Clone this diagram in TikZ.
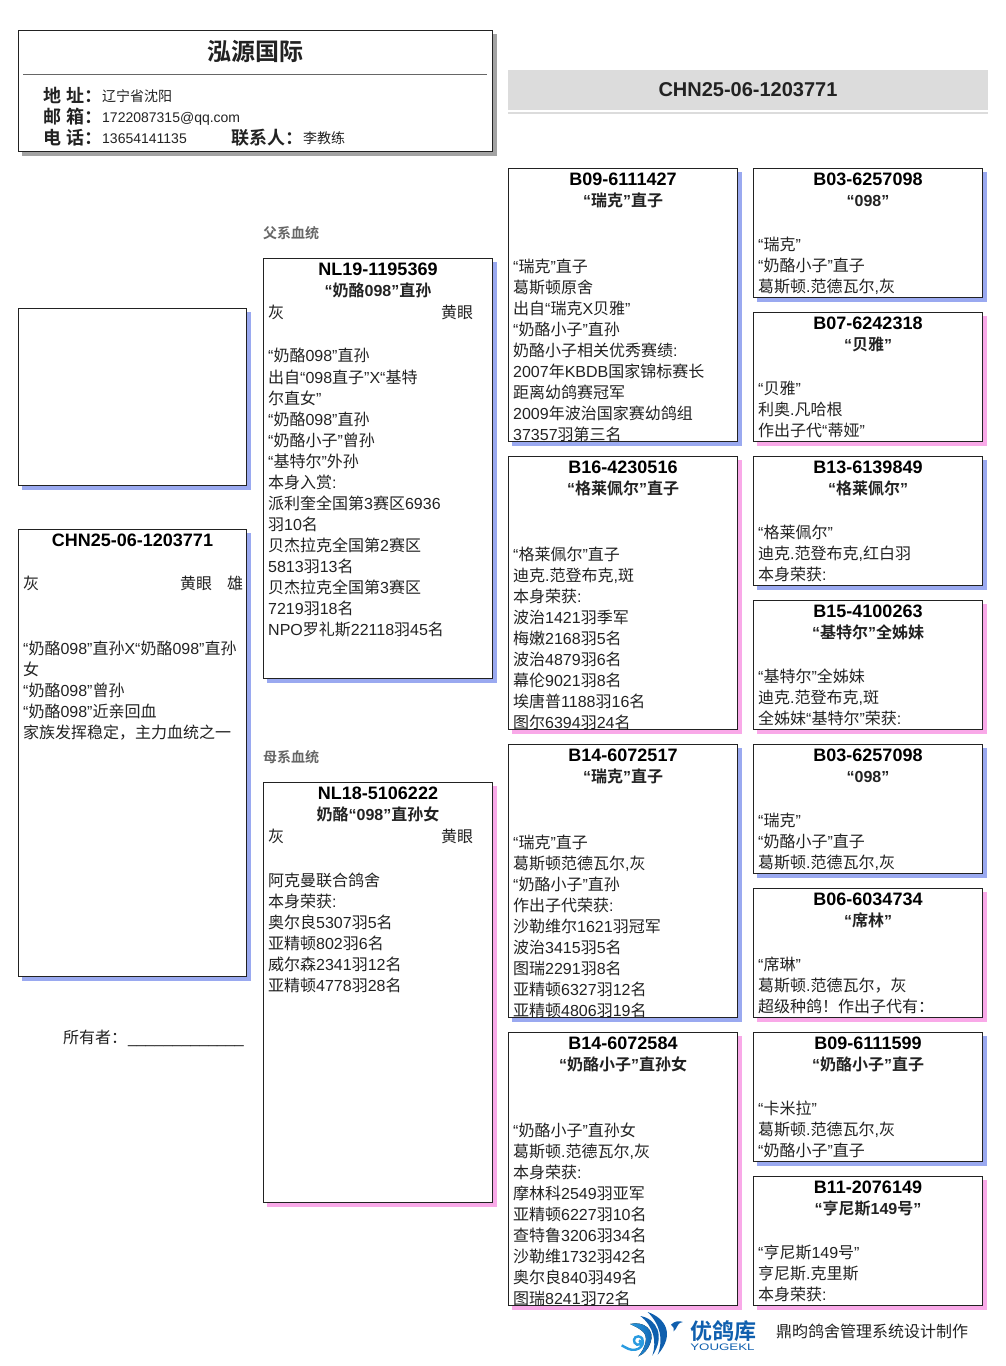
\documentclass[tikz,border=0pt]{standalone}
\usepackage{fontspec}
\setmainfont{Liberation Sans}
\newfontfamily\cjkfam[BoldFont={Noto Sans CJK SC Bold}]{Noto Sans CJK SC}
\XeTeXinterchartokenstate=1
\newXeTeXintercharclass\cjkcl
\makeatletter
\count@="4E00 \loop \XeTeXcharclass\count@=\cjkcl \ifnum\count@<"9FFF \advance\count@ 1 \repeat
\count@="FF00 \loop \XeTeXcharclass\count@=\cjkcl \ifnum\count@<"FF60 \advance\count@ 1 \repeat
\makeatother
\XeTeXinterchartoks 0 \cjkcl = {\begingroup\cjkfam}
\XeTeXinterchartoks 4095 \cjkcl = {\begingroup\cjkfam}
\XeTeXinterchartoks \cjkcl 0 = {\endgroup}
\XeTeXinterchartoks \cjkcl 4095 = {\endgroup}
\definecolor{inkc}{HTML}{222222}
\definecolor{sireblue}{HTML}{9AA9F0}
\definecolor{damepink}{HTML}{F9A9E8}
\definecolor{hdrgray}{HTML}{A3A3A3}
\definecolor{bannerc}{HTML}{DCDCDC}
\definecolor{logod}{HTML}{0F5FAE}
\definecolor{logol}{HTML}{2A9BE0}
\newcommand\fsz[2]{\fontsize{#1}{#2}\selectfont}
\tikzset{
 pedframe/.style={draw=inkc,line width=1pt,fill=white,inner sep=0pt,outer sep=0pt,rectangle,anchor=north west},
 pedshadow/.style={fill=#1,inner sep=0pt,outer sep=0pt,rectangle,anchor=north west},
 idtext/.style={font=\bfseries\fsz{18}{21},text=black,inner sep=0pt,anchor=base},
 nametext/.style={font=\bfseries\fsz{16}{21},text=inkc,inner sep=0pt,anchor=base},
 bodytext/.style={font=\fsz{16}{21},text=inkc,inner sep=0pt,anchor=north west,align=left},
 flat/.style={font=\fsz{16}{21},text=inkc,inner sep=0pt,anchor=base west},
 hdlabel/.style={font=\bfseries\fsz{18}{21},text=inkc,inner sep=0pt,anchor=base west},
 hdvalue/.style={font=\fsz{14}{21},text=inkc,inner sep=0pt,anchor=base west},
 sidelabel/.style={font=\bfseries\fsz{14}{21},text=black!60,inner sep=0pt,anchor=base west},
}
% name, x0, y0, x1, y1, shadow colour
\newcommand\pedbox[6]{%
 \pgfmathsetmacro\bw{#4-#2}\pgfmathsetmacro\bh{#5-#3+0.5}%
 \pgfmathsetmacro\sx{#2+4}\pgfmathsetmacro\sy{#3+4}%
 \node[pedshadow=#6,minimum width=\bw pt,minimum height=\bh pt] (#1shadow) at (\sx,\sy) {};
 \pgfmathsetmacro\bw{#4-#2-1}\pgfmathsetmacro\bh{#5-#3}%
 \pgfmathsetmacro\sx{#2+0.5}\pgfmathsetmacro\sy{#3+0.5}%
 \node[pedframe,minimum width=\bw pt,minimum height=\bh pt] (#1) at (\sx,\sy) {};}
% name, x0, y0, x1, y1, shadow, id, title, first body line y, body
\newcommand\pedcard[9]{%
 \pedbox{#1}{#2}{#3}{#4}{#5}{#6}%
 \pgfmathsetmacro\cx{(#2+#4)/2}\pgfmathsetmacro\ya{#3+17}\pgfmathsetmacro\yb{#3+38}%
 \node[idtext] (#1id) at (\cx,\ya) {#7};
 \node[nametext] (#1name) at (\cx,\yb) {#8};
 \def\cardname{#1}\pgfmathsetmacro\tx{#2+5}\pgfmathsetmacro\ty{#9-10}%
 \pedbody}
\newcommand\pedbody[1]{%
 \begin{scope}
 \clip (\cardname.north west) rectangle (\cardname.south east);
 \node[bodytext] (\cardname body) at (\tx,\ty) {\rule{0pt}{16pt}#1};
 \end{scope}}
\begin{document}
\begin{tikzpicture}[x=1pt,y=-1pt]
\useasboundingbox (0,0) rectangle (1006,1366);
% header
\pedbox{hdr}{18}{30}{493}{151}{hdrgray}
\node[font=\bfseries\fsz{24}{28},text=inkc,inner sep=0pt,anchor=base] (hdrtitle) at (255.5,60) {泓源国际};
\coordinate (hdrl) at (23,74.5); \coordinate (hdrr) at (487,74.5);
\draw[black!60,line width=1pt] (hdrl) -- (hdrr);
\node[hdlabel] (lb1) at (43,102) {地 址：};
\node[hdlabel] (lb2) at (43,123) {邮 箱：};
\node[hdlabel] (lb3) at (43,144) {电 话：};
\node[hdlabel] (lb4) at (231,144) {联系人：};
\node[hdvalue] (v1) at (102,101) {辽宁省沈阳};
\node[hdvalue] (v2) at (102,122) {1722087315@qq.com};
\node[hdvalue] (v3) at (102,143) {13654141135};
\node[hdvalue] (v4) at (303,143) {李教练};
% banner
\node[fill=bannerc,inner sep=0pt,outer sep=0pt,minimum width=480pt,minimum height=40pt,anchor=north west] (banner) at (508,70) {};
\node[fill=bannerc,inner sep=0pt,outer sep=0pt,minimum width=480pt,minimum height=2pt,anchor=north west] (bannerrule) at (508,112) {};
\node[font=\bfseries\fsz{20}{24},text=inkc,inner sep=0pt,anchor=base] (bannertext) at (748,96.5) {CHN25-06-1203771};
% labels
\node[sidelabel] (sirelab) at (263,238) {父系血统};
\node[sidelabel] (damlab) at (263,762) {母系血统};
% left column
\pedbox{photo}{18}{308}{247}{485}{sireblue}
\pedcard{self}{18}{529}{247}{976}{sireblue}{CHN25-06-1203771}{}{648}{“奶酪098”直孙X“奶酪098”直孙\\女\\“奶酪098”曾孙\\“奶酪098”近亲回血\\家族发挥稳定，主力血统之一}
\node[flat] (selfc) at (23,589) {灰};
\node[flat] (selfe) at (180,589) {黄眼};
\node[flat] (selfs) at (227,589) {雄};
\node[flat] (owner) at (63,1043) {所有者：};
\node[flat] (ownerline) at (128,1043) {\_\_\_\_\_\_\_\_\_\_\_\_\_};
% sire and dam
\pedcard{sire}{263}{258}{493}{678}{sireblue}{NL19-1195369}{“奶酪098”直孙}{355}{“奶酪098”直孙\\[1pt]出自“098直子”X“基特\\尔直女”\\“奶酪098”直孙\\“奶酪小子”曾孙\\“基特尔”外孙\\本身入赏:\\派利奎全国第3赛区6936\\羽10名\\贝杰拉克全国第2赛区\\5813羽13名\\贝杰拉克全国第3赛区\\7219羽18名\\NPO罗礼斯22118羽45名}
\node[flat] (sirec) at (268,318) {灰};
\node[flat] (siree) at (441,318) {黄眼};
\pedcard{dam}{263}{782}{493}{1202}{damepink}{NL18-5106222}{奶酪“098”直孙女}{880}{阿克曼联合鸽舍\\本身荣获:\\奥尔良5307羽5名\\亚精顿802羽6名\\威尔森2341羽12名\\亚精顿4778羽28名}
\node[flat] (damc) at (268,842) {灰};
\node[flat] (dame) at (441,842) {黄眼};
% third column
\pedcard{ca}{508}{168}{738}{441}{sireblue}{B09-6111427}{“瑞克”直子}{266}{“瑞克”直子\\葛斯顿原舍\\出自“瑞克X贝雅”\\“奶酪小子”直孙\\奶酪小子相关优秀赛绩:\\2007年KBDB国家锦标赛长\\距离幼鸽赛冠军\\2009年波治国家赛幼鸽组\\37357羽第三名}
\pedcard{cb}{508}{456}{738}{729}{damepink}{B16-4230516}{“格莱佩尔”直子}{554}{“格莱佩尔”直子\\迪克.范登布克,斑\\本身荣获:\\波治1421羽季军\\梅嫩2168羽5名\\波治4879羽6名\\幕伦9021羽8名\\埃唐普1188羽16名\\图尔6394羽24名}
\pedcard{cc}{508}{744}{738}{1017}{sireblue}{B14-6072517}{“瑞克”直子}{842}{“瑞克”直子\\葛斯顿范德瓦尔,灰\\“奶酪小子”直孙\\作出子代荣获:\\沙勒维尔1621羽冠军\\波治3415羽5名\\图瑞2291羽8名\\亚精顿6327羽12名\\亚精顿4806羽19名}
\pedcard{cd}{508}{1032}{738}{1305}{damepink}{B14-6072584}{“奶酪小子”直孙女}{1130}{“奶酪小子”直孙女\\葛斯顿.范德瓦尔,灰\\本身荣获:\\摩林科2549羽亚军\\亚精顿6227羽10名\\查特鲁3206羽34名\\沙勒维1732羽42名\\奥尔良840羽49名\\图瑞8241羽72名}
% fourth column
\pedcard{da}{753}{168}{983}{297}{sireblue}{B03-6257098}{“098”}{244}{“瑞克”\\“奶酪小子”直子\\葛斯顿.范德瓦尔,灰}
\pedcard{db}{753}{312}{983}{441}{damepink}{B07-6242318}{“贝雅”}{388}{“贝雅”\\利奥.凡哈根\\作出子代“蒂娅”}
\pedcard{dc}{753}{456}{983}{585}{sireblue}{B13-6139849}{“格莱佩尔”}{532}{“格莱佩尔”\\迪克.范登布克,红白羽\\本身荣获:}
\pedcard{dd}{753}{600}{983}{729}{damepink}{B15-4100263}{“基特尔”全姊妹}{676}{“基特尔”全姊妹\\迪克.范登布克,斑\\全姊妹“基特尔”荣获:}
\pedcard{de}{753}{744}{983}{873}{sireblue}{B03-6257098}{“098”}{820}{“瑞克”\\“奶酪小子”直子\\葛斯顿.范德瓦尔,灰}
\pedcard{df}{753}{888}{983}{1017}{damepink}{B06-6034734}{“席林”}{964}{“席琳”\\葛斯顿.范德瓦尔，灰\\超级种鸽！作出子代有：}
\pedcard{dg}{753}{1032}{983}{1161}{sireblue}{B09-6111599}{“奶酪小子”直子}{1108}{“卡米拉”\\葛斯顿.范德瓦尔,灰\\“奶酪小子”直子}
\pedcard{dh}{753}{1176}{983}{1305}{damepink}{B11-2076149}{“亨尼斯149号”}{1252}{“亨尼斯149号”\\亨尼斯.克里斯\\本身荣获:}
% footer logo
\begin{scope}[shift={(615,1308)},x=0.3333pt,y=-0.3333pt]
\fill[logod] (98,12) .. controls (150,30) and (182,78) .. (128,140) .. controls (146,95) and (136,50) .. (98,12) -- cycle;
\fill[logod] (76,24) .. controls (125,32) and (152,85) .. (112,143) .. controls (126,100) and (116,55) .. (76,24) -- cycle;
\fill[left color=logol,right color=logod] (45,48) .. controls (85,38) and (122,65) .. (106,105) .. controls (98,125) and (88,137) .. (70,145) .. controls (92,118) and (100,88) .. (85,72) .. controls (75,62) and (60,55) .. (45,48) -- cycle;
\fill[logod] (168,50) .. controls (180,38) and (192,38) .. (204,42) .. controls (192,44) and (188,50) .. (186,56) .. controls (184,62) and (180,66) .. (176,70) .. controls (178,62) and (176,56) .. (168,50) -- cycle;
\draw[logol,line width=2.4pt] (20,112) .. controls (35,120) and (45,128) .. (62,125) .. controls (88,120) and (92,88) .. (70,85) .. controls (55,84) and (52,105) .. (66,110) .. controls (76,112) and (82,100) .. (72,97);
\end{scope}
\node[font=\bfseries\fsz{22}{24},text=logod,inner sep=0pt,anchor=base west] (logocn) at (690,1339.5) {优鸽库};
\node[font=\fsz{9.5}{11},text=logod,inner sep=0pt,anchor=base west,xscale=1.4,transform shape] (logoen) at (690,1350) {YOUGEKL};
\node[flat] (footer) at (776,1337) {鼎昀鸽舍管理系统设计制作};
\end{tikzpicture}
\end{document}
